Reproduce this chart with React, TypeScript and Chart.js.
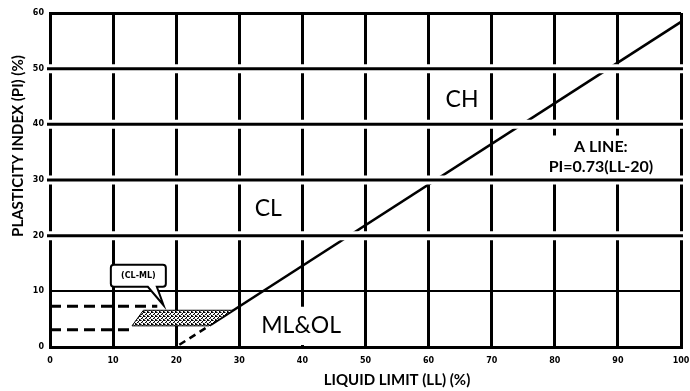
import React, { useEffect, useRef } from "react";
import { Chart, registerables } from "chart.js";

Chart.register(...registerables);

// ---- data ----
const xTickValues = [0, 10, 20, 30, 40, 50, 60, 70, 80, 90, 100];
const yTickValues = [0, 10, 20, 30, 40, 50, 60];

// A-line (solid part) and its dashed extension down to the LL axis
const aLineLL = [25.5, 100];
const aLinePI = [4, 58.4];
const aLineExtLL = [20.5, 25.5];
const aLineExtPI = [0.4, 4];

// CL-ML hatched zone polygon (closed)
const clmlLL = [13, 25.2, 29, 14.8, 13];
const clmlPI = [3.8, 3.8, 6.6, 6.6, 3.8];

// dashed reference lines
const upperDashLL = [0, 17];
const upperDashPI = [7.3, 7.3];
const lowerDashLL = [0, 13];
const lowerDashPI = [3.1, 3.1];

// zone labels
const zoneLabels = ["CH", "CL", "ML&OL"];
const zoneLabelLL = [65.3, 34.6, 39.8];
const zoneLabelPI = [44.6, 25.1, 4.0];

const aLineLabel = ["A LINE:", "PI=0.73(LL-20)"];
const aLineLabelLL = 87.3;
const aLineLabelPI = [36.2, 32.6];

const calloutLabel = "(CL-ML)";
const calloutLL = 14.0;
const calloutPI = 12.8;

const xTitle = "LIQUID LIMIT (LL) (%)";
const yTitle = "PLASTICITY INDEX (PI) (%)";

const toPts = (xs: number[], ys: number[]) => xs.map((x, i) => ({ x, y: ys[i] }));

function makePattern(): CanvasPattern | string {
  const c = document.createElement("canvas");
  c.width = 4;
  c.height = 4;
  const g = c.getContext("2d");
  if (!g) return "#999";
  g.fillStyle = "#ffffff";
  g.fillRect(0, 0, 4, 4);
  g.fillStyle = "#000000";
  const dots = [[0, 0], [2, 1], [1, 2], [3, 3], [3, 0]];
  dots.forEach(([x, y]) => g.fillRect(x, y, 1, 1));
  g.fillStyle = "#777777";
  [[1, 0], [0, 3], [2, 2]].forEach(([x, y]) => g.fillRect(x, y, 1, 1));
  const p = g.createPattern(c, "repeat");
  return p || "#999";
}

const overlay = {
  id: "overlay",
  afterDatasetsDraw(chart: any) {
    const { ctx, chartArea, scales } = chart;
    const xs = scales.x;
    const ys = scales.y;
    ctx.save();
    // white halos around horizontal grid lines (scanned look)
    [20, 30, 40, 50].forEach((v) => {
      const y = ys.getPixelForValue(v);
      ctx.strokeStyle = "#fff";
      ctx.lineWidth = 9;
      ctx.beginPath();
      ctx.moveTo(chartArea.left - 1, y);
      ctx.lineTo(chartArea.right + 2, y);
      ctx.stroke();
      ctx.strokeStyle = "#000";
      ctx.lineWidth = 3;
      ctx.beginPath();
      ctx.moveTo(chartArea.left - 3, y);
      ctx.lineTo(chartArea.right + 2, y);
      ctx.stroke();
    });

    // zone labels
    ctx.textAlign = "center";
    ctx.textBaseline = "middle";
    ctx.font = "23px Lato";
    zoneLabels.forEach((t, i) => {
      const px = xs.getPixelForValue(zoneLabelLL[i]);
      const py = ys.getPixelForValue(zoneLabelPI[i]);
      if (t === "ML&OL") {
        const w = ctx.measureText(t).width;
        ctx.fillStyle = "#fff";
        ctx.fillRect(px - w / 2 - 6, py - 18, w + 12, ys.getPixelForValue(0) - (py - 18) - 2);
      }
      ctx.fillStyle = "#000";
      ctx.fillText(t, px, py + 1);
    });

    // A-line label
    ctx.font = "bold 16px Lato";
    const ax = xs.getPixelForValue(aLineLabelLL);
    const ay0 = ys.getPixelForValue(aLineLabelPI[0]);
    const ay1 = ys.getPixelForValue(aLineLabelPI[1]);
    const aw = Math.max(...aLineLabel.map((t) => ctx.measureText(t).width));
    ctx.fillStyle = "#fff";
    ctx.fillRect(ax - aw / 2 - 5, ay0 - 10, aw + 10, ay1 - ay0 + 21);
    ctx.fillStyle = "#000";
    ctx.fillText(aLineLabel[0], ax, ay0 + 1);
    ctx.fillText(aLineLabel[1], ax, ay1 + 1);

    // callout (CL-ML)
    const cx = xs.getPixelForValue(calloutLL);
    const cy = ys.getPixelForValue(calloutPI);
    const bw = 55;
    const bh = 22;
    const bl = cx - bw / 2;
    const bt = cy - bh / 2;
    const tipX = xs.getPixelForValue(18.0);
    const tipY = ys.getPixelForValue(7.5);
    ctx.beginPath();
    ctx.moveTo(bl + 3, bt);
    ctx.lineTo(bl + bw - 3, bt);
    ctx.quadraticCurveTo(bl + bw, bt, bl + bw, bt + 3);
    ctx.lineTo(bl + bw, bt + bh - 3);
    ctx.quadraticCurveTo(bl + bw, bt + bh, bl + bw - 3, bt + bh);
    ctx.lineTo(bl + 46, bt + bh);
    ctx.lineTo(tipX, tipY);
    ctx.lineTo(bl + 37, bt + bh);
    ctx.lineTo(bl + 3, bt + bh);
    ctx.quadraticCurveTo(bl, bt + bh, bl, bt + bh - 3);
    ctx.lineTo(bl, bt + 3);
    ctx.quadraticCurveTo(bl, bt, bl + 3, bt);
    ctx.closePath();
    ctx.fillStyle = "#fff";
    ctx.fill();
    ctx.strokeStyle = "#000";
    ctx.lineWidth = 2;
    ctx.stroke();
    ctx.font = "bold 8px 'DejaVu Sans'";
    ctx.fillStyle = "#000";
    ctx.fillText(calloutLabel, cx, cy);

    ctx.restore();
  },
  afterDraw(chart: any) {
    const { ctx } = chart;
    ctx.save();
    ctx.fillStyle = "#000";
    ctx.textAlign = "center";
    ctx.textBaseline = "middle";
    ctx.font = "bold 15px Lato";
    ctx.fillText(xTitle, 397, 380);
    ctx.translate(18, 146);
    ctx.rotate(-Math.PI / 2);
    ctx.font = "bold 15px Lato";
    ctx.fillText(yTitle, 0, 0);
    ctx.restore();
  },
};

export default function App() {
  const ref = useRef<HTMLCanvasElement | null>(null);
  useEffect(() => {
    document.body.style.margin = "0";
    const canvas = ref.current;
    if (!canvas) return;
    const pattern = makePattern();
    const tickFont = { family: "'DejaVu Sans'", weight: "bold" as const, size: 8 };
    const chart = new Chart(canvas, {
      type: "scatter",
      data: {
        datasets: [
          {
            label: "CL-ML zone",
            data: toPts(clmlLL, clmlPI),
            showLine: true,
            fill: "shape" as any,
            backgroundColor: pattern as any,
            borderColor: "#000",
            borderWidth: 1,
            pointRadius: 0,
            tension: 0,
          },
          {
            label: "upper dash",
            data: toPts(upperDashLL, upperDashPI),
            showLine: true,
            borderColor: "#000",
            borderWidth: 3,
            borderDash: [11, 6],
            pointRadius: 0,
          },
          {
            label: "lower dash",
            data: toPts(lowerDashLL, lowerDashPI),
            showLine: true,
            borderColor: "#000",
            borderWidth: 3,
            borderDash: [11, 6],
            pointRadius: 0,
          },
          {
            label: "A-line ext",
            data: toPts(aLineExtLL, aLineExtPI),
            showLine: true,
            borderColor: "#000",
            borderWidth: 2.5,
            borderDash: [7, 5],
            pointRadius: 0,
          },
          {
            label: "A-line",
            data: toPts(aLineLL, aLinePI),
            showLine: true,
            borderColor: "#000",
            borderWidth: 2.5,
            pointRadius: 0,
          },
        ],
      },
      options: {
        responsive: false,
        animation: false,
        layout: { padding: { top: 13, right: 9, left: 0, bottom: 0 } },
        plugins: {
          legend: { display: false },
          tooltip: { enabled: false },
        },
        scales: {
          x: {
            type: "linear",
            min: 0,
            max: 100,
            afterBuildTicks: (s: any) => {
              s.ticks = xTickValues.map((v) => ({ value: v }));
            },
            afterFit: (s: any) => {
              s.height = 44;
              s.paddingLeft = 0;
              s.paddingRight = 0;
            },
            grid: { color: "#000", lineWidth: 3, drawTicks: false },
            border: { color: "#000", width: 3 },
            ticks: { color: "#000", padding: 9, font: tickFont, maxRotation: 0, autoSkip: false },
          },
          y: {
            type: "linear",
            min: 0,
            max: 60,
            afterBuildTicks: (s: any) => {
              s.ticks = yTickValues.map((v) => ({ value: v }));
            },
            afterFit: (s: any) => {
              s.width = 50;
              s.paddingTop = 0;
              s.paddingBottom = 0;
            },
            grid: {
              color: "#000",
              lineWidth: (c: any) => (c.tick && c.tick.value === 10 ? 2 : 3),
              drawTicks: false,
            },
            border: { color: "#000", width: 3 },
            ticks: { color: "#000", padding: 6, font: tickFont, autoSkip: false },
          },
        },
      },
      plugins: [overlay],
    });
    return () => chart.destroy();
  }, []);
  return <canvas ref={ref} width={690} height={391} style={{ display: "block" }} />;
}
